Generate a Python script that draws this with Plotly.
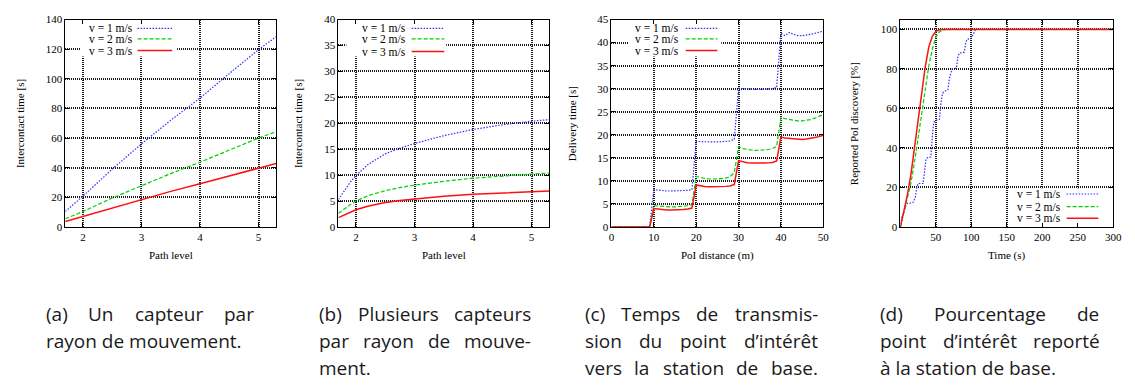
import plotly.graph_objects as go

W, H = 1135, 387

# ---------------- data ----------------
labels = ["v = 1 m/s", "v = 2 m/s", "v = 3 m/s"]

A_x = [1.7, 2.0, 2.5, 3.0, 3.5, 4.0, 4.5, 5.0, 5.3]
A_v1 = [10.5, 20.7, 39.0, 56.0, 72.0, 87.0, 103.5, 119.7, 128.4]
A_v2 = [5.5, 10.4, 19.5, 28.0, 36.0, 43.7, 51.8, 60.0, 64.3]
A_v3 = [3.6, 7.0, 13.0, 18.7, 24.0, 29.1, 34.5, 40.0, 42.8]

B_x = [1.7, 1.8, 1.9, 2.0, 2.2, 2.5, 2.75, 3.0, 3.5, 4.0, 4.5, 5.0, 5.3]
B_v1 = [5.3, 7.0, 8.6, 9.9, 12.0, 14.1, 15.2, 16.1, 17.6, 18.8, 19.7, 20.4, 20.7]
B_v2 = [2.6, 3.5, 4.3, 5.0, 6.0, 7.0, 7.6, 8.05, 8.8, 9.4, 9.85, 10.2, 10.4]
B_v3 = [1.8, 2.35, 2.85, 3.3, 4.0, 4.7, 5.1, 5.4, 5.9, 6.3, 6.6, 6.8, 6.95]

C_x = [0, 1, 2, 3, 4, 5, 6, 7, 8, 9,
       10, 11, 12, 13, 14, 15, 16, 17, 18, 19,
       20, 21, 22, 23, 24, 25, 26, 27, 28, 29,
       30, 31, 32, 33, 34, 35, 36, 37, 38, 39,
       40, 41, 42, 43, 44, 45, 46, 47, 48, 49, 50]
C_v1 = [0, 0, 0, 0, 0, 0, 0, 0, 0, 0,
        8.1, 7.95, 7.85, 7.8, 7.8, 7.8, 7.85, 7.9, 7.95, 8.1,
        18.6, 18.5, 18.45, 18.45, 18.45, 18.45, 18.5, 18.55, 18.65, 19.0,
        30.1, 30.0, 29.9, 29.85, 29.85, 29.85, 29.9, 29.95, 30.0, 30.3,
        42.0, 41.5, 42.2, 41.8, 41.5, 41.5, 41.6, 41.8, 42.0, 42.2, 42.5]
C_v2 = [0, 0, 0, 0, 0, 0, 0, 0, 0, 0,
        4.6, 4.5, 4.4, 4.35, 4.35, 4.35, 4.4, 4.5, 4.6, 4.8,
        11.0, 10.7, 10.5, 10.4, 10.4, 10.4, 10.5, 10.6, 10.9, 11.8,
        17.4, 17.0, 16.8, 16.7, 16.6, 16.6, 16.7, 16.8, 17.0, 17.5,
        23.7, 23.5, 23.3, 23.1, 23.0, 23.0, 23.1, 23.3, 23.6, 24.0, 24.4]
C_v3 = [0, 0, 0, 0, 0, 0, 0, 0, 0, 0,
        4.0, 3.85, 3.75, 3.7, 3.7, 3.7, 3.75, 3.8, 3.9, 4.1,
        9.1, 8.9, 8.75, 8.7, 8.7, 8.7, 8.75, 8.8, 8.9, 9.2,
        14.4, 14.1, 13.95, 13.85, 13.8, 13.8, 13.85, 13.9, 14.0, 14.3,
        19.5, 19.3, 19.2, 19.1, 19.0, 19.0, 19.1, 19.2, 19.4, 19.6, 19.9]

D_x1 = [0, 2, 4, 6, 8, 10, 13, 18, 21, 23, 25, 32, 34, 36, 38, 43, 45, 47, 50,
        55, 57, 59, 61, 67, 69, 71, 73, 79, 81, 83, 90, 92, 94, 100, 102, 104, 106, 300]
D_v1 = [0, 5, 6.5, 9, 11, 12, 12, 12.5, 15, 20, 22, 22, 30, 34, 35, 35.5, 46, 53, 54,
        54.5, 62, 67, 68.5, 69.5, 75, 78, 80, 80.5, 86, 88, 88.5, 93, 95, 95.5, 97, 99, 100, 100]
D_x2 = [0, 5, 10, 15, 20, 25, 30, 35, 40, 45, 50, 55, 60, 65, 300]
D_v2 = [0, 7, 14, 22.5, 33, 45, 57.5, 70, 81.5, 90, 96, 98.8, 99.8, 100, 100]
D_x3 = [0, 5, 10, 15, 20, 25, 30, 35, 40, 45, 50, 55, 60, 300]
D_v3 = [0, 8, 16.5, 27, 40.5, 55, 68.5, 81, 91, 96.5, 99, 99.8, 100, 100]

captions = [
    # (left, right, [(line text, justified?)])
    (42, 252, [("(a) Un capteur par", True), ("rayon de mouvement.", False)]),
    (318, 532, [("(b) Plusieurs capteurs", True), ("par rayon de mouve-", True), ("ment.", False)]),
    (587, 822, [("(c) Temps de transmis-", True), ("sion du point d’intérêt", True),
                ("vers la station de base.", True)]),
    (885, 1107, [("(d) Pourcentage de", True), ("point d’intérêt reporté", True),
                 ("à la station de base.", False)]),
]

# ---------------- style ----------------
SERIF = "Liberation Serif"
SANS = "Open Sans"
CAP_FS = 19
colors = ["#3030ff", "#00d000", "#ff1010"]
dashes = ["1.5px,1.5px", "4px,2px", "solid"]
widths = [1.2, 1.2, 1.5]

# approximate Open Sans advance widths (em) used to justify caption lines
OS_W = {'a': .556, 'b': .613, 'c': .48, 'd': .613, 'e': .561, 'f': .34, 'g': .546, 'h': .613, 'i': .258,
        'j': .258, 'k': .529, 'l': .258, 'm': .932, 'n': .613, 'o': .602, 'p': .613, 'q': .613, 'r': .408,
        's': .477, 't': .352, 'u': .613, 'v': .5, 'w': .775, 'x': .517, 'y': .5, 'z': .468,
        'P': .603, 'T': .55, 'U': .733, '(': .296, ')': .296, '-': .322, '.': .266, '’': .17,
        'é': .561, 'ê': .561, 'à': .556, ' ': .26}


def word_w(w):
    return sum(OS_W.get(ch, .56) for ch in w) * CAP_FS


def px(x):
    return x / W


def py(y):
    return 1 - y / H


PT, PB = 14, 228
panels = [
    dict(L=63, R=276, xr=[1.7, 5.3], yr=[0, 140], xt=[2, 3, 4, 5], yt=list(range(0, 141, 20)),
         xs=[A_x, A_x, A_x], ys=[A_v1, A_v2, A_v3], xtitle="Path level", ytitle="Intercontact time [s]",
         ytx=17, leg=dict(tr=132, s0=136, s1=171, rows=[23, 34, 46], box=[78, 176, 14, 52])),
    dict(L=339, R=552, xr=[1.7, 5.3], yr=[0, 40], xt=[2, 3, 4, 5], yt=list(range(0, 41, 5)),
         xs=[B_x, B_x, B_x], ys=[B_v1, B_v2, B_v3], xtitle="Path level", ytitle="Intercontact time [s]",
         ytx=298, leg=dict(tr=408, s0=413, s1=446, rows=[23, 34, 47], box=[347, 448, 14, 52])),
    dict(L=615, R=829, xr=[0, 50], yr=[0, 45], xt=list(range(0, 51, 10)), yt=list(range(0, 46, 5)),
         xs=[C_x, C_x, C_x], ys=[C_v1, C_v2, C_v3], xtitle="PoI distance (m)", ytitle="Delivery time [s]",
         ytx=575, leg=dict(tr=684, s0=690, s1=722, rows=[23, 34, 46], box=[632, 726, 14, 52])),
    dict(L=907, R=1122, xr=[0, 300], yr=[0, 105], xt=list(range(50, 301, 50)), yt=list(range(0, 101, 20)),
         xs=[D_x1, D_x2, D_x3], ys=[D_v1, D_v2, D_v3], xtitle="Time (s)", ytitle="Reported PoI discovery [%]",
         ytx=860, leg=dict(tr=1070, s0=1075, s1=1107, rows=[194, 207, 219], box=[1020, 1122, 188, 228])),
]

fig = go.Figure()
shapes = []
annotations = []

for i, p in enumerate(panels):
    n = "" if i == 0 else str(i + 1)
    xa, ya = "x" + n, "y" + n

    def dx(v, p=p):
        return p["xr"][0] + (v - p["L"]) / (p["R"] - p["L"]) * (p["xr"][1] - p["xr"][0])

    def dy(v, p=p):
        return p["yr"][0] + (PB - v) / (PB - PT) * (p["yr"][1] - p["yr"][0])

    lg = p["leg"]
    b = lg["box"]
    # white key box: sits above the grid, below the curves
    fig.add_trace(go.Scatter(x=[dx(b[0]), dx(b[1]), dx(b[1]), dx(b[0]), dx(b[0])],
                             y=[dy(b[3]), dy(b[3]), dy(b[2]), dy(b[2]), dy(b[3])],
                             mode="lines", fill="toself", fillcolor="white", line=dict(width=0, color="white"),
                             xaxis=xa, yaxis=ya, showlegend=False, hoverinfo="skip"))
    for k in range(3):
        fig.add_trace(go.Scatter(x=p["xs"][k], y=p["ys"][k], mode="lines", xaxis=xa, yaxis=ya,
                                 line=dict(color=colors[k], width=widths[k], dash=dashes[k]),
                                 showlegend=False, hoverinfo="skip"))
    axcommon = dict(showline=True, linecolor="black", linewidth=1, mirror="ticks", ticks="inside",
                    ticklen=4, tickcolor="black", showgrid=True, gridcolor="#1a1a1a", gridwidth=1.5,
                    griddash="1px,1px", zeroline=False, tickfont=dict(family=SERIF, size=11, color="black"))
    fig.update_layout(**{
        "xaxis" + n: dict(domain=[px(p["L"]), px(p["R"])], range=p["xr"], tickvals=p["xt"],
                          anchor=ya, **axcommon),
        "yaxis" + n: dict(domain=[py(PB), py(PT)], range=p["yr"], tickvals=p["yt"],
                          anchor=xa, **axcommon),
    })

    for k in range(3):
        yy = lg["rows"][k]
        annotations.append(dict(text=labels[k], xref="paper", yref="paper", x=px(lg["tr"]), y=py(yy),
                                xanchor="right", yanchor="middle", showarrow=False, borderpad=0,
                                font=dict(family=SERIF, size=11.5, color="black")))
        shapes.append(dict(type="line", xref="paper", yref="paper", x0=px(lg["s0"]), x1=px(lg["s1"]),
                           y0=py(yy), y1=py(yy),
                           line=dict(color=colors[k], width=widths[k], dash=dashes[k])))
    # axis titles
    annotations.append(dict(text=p["xtitle"], xref="paper", yref="paper", x=px((p["L"] + p["R"]) / 2),
                            y=py(257), xanchor="center", yanchor="middle", showarrow=False,
                            font=dict(family=SERIF, size=11, color="black")))
    annotations.append(dict(text=p["ytitle"], xref="paper", yref="paper", x=px(p["ytx"]),
                            y=py((PT + PB) / 2), xanchor="center", yanchor="middle", showarrow=False,
                            textangle=-90, font=dict(family=SERIF, size=11, color="black")))

# ---------------- captions (justified word by word) ----------------
LINE_Y = [318, 346, 374]
for left, right, lines in captions:
    for li, (text, just) in enumerate(lines):
        y = py(LINE_Y[li])
        if not just:
            annotations.append(dict(text=text, xref="paper", yref="paper", x=px(left), y=y, xanchor="left",
                                    yanchor="middle", showarrow=False, borderpad=0,
                                    font=dict(family=SANS, size=CAP_FS, color="#1a1a1a")))
            continue
        words = text.split(" ")
        ws = [word_w(w) for w in words]
        gap = (right - left - sum(ws)) / (len(words) - 1)
        xcur = left
        for w, ww in zip(words, ws):
            annotations.append(dict(text=w, xref="paper", yref="paper", x=px(xcur), y=y, xanchor="left",
                                    yanchor="middle", showarrow=False, borderpad=0,
                                    font=dict(family=SANS, size=CAP_FS, color="#1a1a1a")))
            xcur += ww + gap

fig.update_layout(width=W, height=H, margin=dict(l=0, r=0, t=0, b=0), paper_bgcolor="white",
                  plot_bgcolor="white", shapes=shapes, annotations=annotations, showlegend=False)

fig.write_html("out.html")
